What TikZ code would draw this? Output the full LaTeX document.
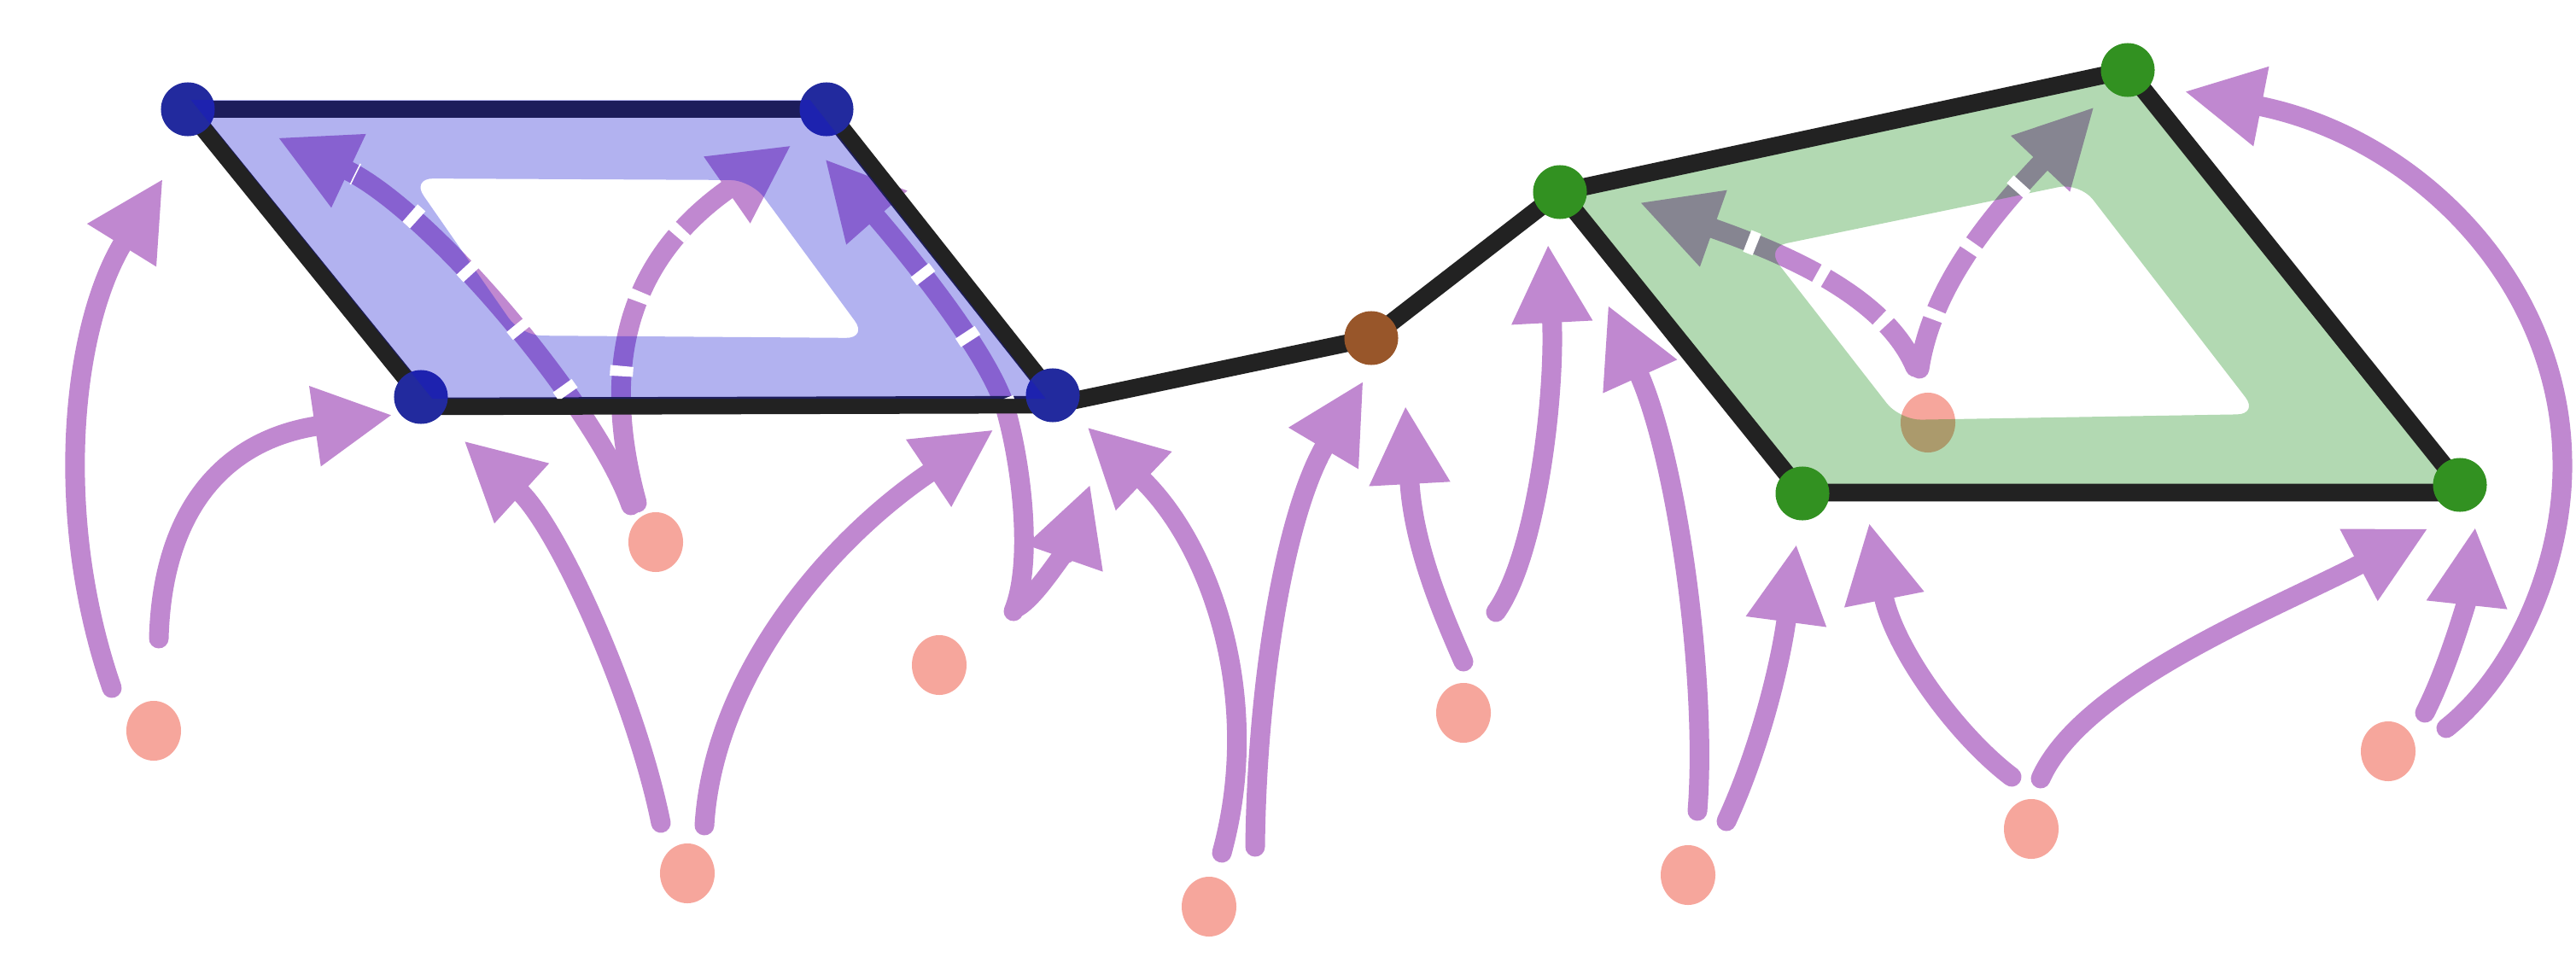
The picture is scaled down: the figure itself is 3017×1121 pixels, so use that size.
\documentclass[tikz,border=0pt]{standalone}
\usetikzlibrary{arrows.meta,shapes.geometric}
\definecolor{arrowc}{RGB}{192,136,208}
\definecolor{pinkc}{RGB}{246,166,156}
\definecolor{edgec}{RGB}{34,34,34}
\definecolor{bluen}{RGB}{34,42,158}
\definecolor{greenn}{RGB}{50,145,33}
\definecolor{brownn}{RGB}{152,86,42}
\definecolor{bluef}{RGB}{20,20,210}
\definecolor{greenf}{RGB}{0,128,0}
\tikzset{
  arr/.style={draw=arrowc, line width=0.23cm, line cap=round,
    -{Triangle[length=0.92cm,width=0.88cm]}},
  wgap/.style={draw=white, line width=0.27cm, dash pattern=on 0.12cm off 0.78cm,
    dash phase=0.3cm, shorten >=1.0cm},
  gedge/.style={draw=edgec, line width=0.205cm, line join=round},
  vtx/.style={circle, inner sep=0pt, minimum size=0.63cm},
  src/.style={ellipse, inner sep=0pt, minimum width=0.64cm, minimum height=0.70cm, fill=pinkc},
  bfill/.style={fill=bluef, fill opacity=0.33, even odd rule},
  gfill/.style={fill=greenf, fill opacity=0.3, even odd rule},
}
\begin{document}
\begin{tikzpicture}[x=0.01cm,y=-0.01cm]
\useasboundingbox (0,0) rectangle (3017,1121);

% graph vertex positions
\coordinate (B1) at (220,128);
\coordinate (B2) at (968,128);
\coordinate (B3) at (493,465);
\coordinate (B4) at (1233,463);
\coordinate (B3b) at (493,476);
\coordinate (B4b) at (1235,474);
\coordinate (Br) at (1606,396);
\coordinate (G1) at (1827,225);
\coordinate (G2) at (2492,82);
\coordinate (G3) at (2111,578);
\coordinate (G4) at (2881,568);
\coordinate (G3b) at (2111,577);
\coordinate (G4b) at (2881,577);

% pink source nodes
\node[src] (p1) at (180,856) {};
\node[src] (p2) at (768,635) {};
\node[src] (p3) at (805,1023) {};
\node[src] (p4) at (1100,779) {};
\node[src] (p5) at (1416,1062) {};
\node[src] (p6) at (1714,835) {};
\node[src] (p7) at (1977,1025) {};
\node[src] (p8) at (2258,495) {};
\node[src] (p9) at (2379,971) {};
\node[src] (p10) at (2797,880) {};

% arrow end points
\coordinate (a1s) at (131,806);   \coordinate (a1t) at (191,209);
\coordinate (a2s) at (186,748);   \coordinate (a2t) at (460,486);
\coordinate (a3s) at (739,592);   \coordinate (a3t) at (325,161);
\coordinate (a4s) at (746,589);   \coordinate (a4t) at (927,170);
\coordinate (a5s) at (774,964);   \coordinate (a5t) at (543,516);
\coordinate (a6s) at (825,967);   \coordinate (a6t) at (1164,503);
\coordinate (a7s) at (1190,712);  \coordinate (a7t) at (1277,567);
\coordinate (a8s) at (1187,716);  \coordinate (a8m) at (1178,480); \coordinate (a8t) at (966,186);
\coordinate (a9s) at (1470,992);  \coordinate (a9t) at (1597,446);
\coordinate (a10s) at (1431,999); \coordinate (a10t) at (1273,500);
\coordinate (a11s) at (1714,775); \coordinate (a11t) at (1646,475);
\coordinate (a12s) at (1752,717); \coordinate (a12t) at (1813,286);
\coordinate (a13s) at (1988,950); \coordinate (a13t) at (1883,357);
\coordinate (a14s) at (2022,962); \coordinate (a14t) at (2104,637);
\coordinate (a15s) at (2356,910); \coordinate (a15t) at (2189,612);
\coordinate (a16s) at (2390,912); \coordinate (a16t) at (2844,619);
\coordinate (a17s) at (2840,835); \coordinate (a17t) at (2899,617);
\coordinate (a18s) at (2865,853); \coordinate (a18m) at (3001,540); \coordinate (a18t) at (2558,107);
\coordinate (a19s) at (2243,430); \coordinate (a19t) at (1920,237);
\coordinate (a20s) at (2248,432); \coordinate (a20t) at (2453,125);

% arrows
\draw[arr] (a1s) .. controls (60,600) and (85,380) .. (a1t);
\draw[arr] (a2s) .. controls (190,600) and (260,515) .. (a2t);
\draw[arr] (a3s) .. controls (700,480) and (506,246) .. (a3t);
\draw[arr] (a4s) .. controls (700,420) and (740,300) .. (a4t);
\draw[arr] (a5s) .. controls (745,820) and (654,617) .. (a5t);
\draw[arr] (a6s) .. controls (835,800) and (960,640) .. (a6t);
\draw[arr] (a7s) .. controls (1215,700) and (1255,630) .. (a7t);
\draw[arr] (a8s) .. controls (1210,660) and (1197,547) .. (a8m)
                 .. controls (1156,403) and (1026,254) .. (a8t);
\draw[arr] (a9s) .. controls (1472,800) and (1505,601) .. (a9t);
\draw[arr] (a10s) .. controls (1480,820) and (1420,640) .. (a10t);
\draw[arr] (a11s) .. controls (1690,720) and (1655,640) .. (a11t);
\draw[arr] (a12s) .. controls (1800,650) and (1822,460) .. (a12t);
\draw[arr] (a13s) .. controls (2000,800) and (1965,539) .. (a13t);
\draw[arr] (a14s) .. controls (2060,880) and (2085,780) .. (a14t);
\draw[arr] (a15s) .. controls (2290,860) and (2218,759) .. (a15t);
\draw[arr] (a16s) .. controls (2440,800) and (2667,712) .. (a16t);
\draw[arr] (a17s) .. controls (2868,780) and (2890,700) .. (a17t);
\draw[arr] (a18s) .. controls (2945,790) and (3003,660) .. (a18m)
                  .. controls (2999,330) and (2830,160) .. (a18t);
\draw[arr] (a19s) .. controls (2205,340) and (2070,290) .. (a19t);
\draw[arr] (a20s) .. controls (2262,340) and (2325,260) .. (a20t);

% green region
\fill[gfill] (G1) -- (G2) -- (G4) -- (G3) -- cycle
  [rounded corners=0.25cm] (2068,290) -- (2436,214) -- (2645,485) -- (2225,492) -- cycle;

% edges
\draw[gedge] (B1) -- (B2);
\draw[gedge] (B2) -- (B4) -- (B4b) -- (B3b) -- (B3) -- (B1);
\draw[gedge] (B4b) -- (Br) -- (G1) -- (G2) -- (G4) -- (G4b) -- (G3b) -- (G3) -- (G1);

% graph vertices
\node[vtx, fill=bluen] (b1) at (B1) {};
\node[vtx, fill=bluen] (b2) at (B2) {};
\node[vtx, fill=bluen] (b3) at (B3) {};
\node[vtx, fill=bluen] (b4) at (B4) {};
\node[vtx, fill=brownn] (br) at (Br) {};
\node[vtx, fill=greenn] (g1) at (G1) {};
\node[vtx, fill=greenn] (g2) at (G2) {};
\node[vtx, fill=greenn] (g3) at (G3) {};
\node[vtx, fill=greenn] (g4) at (G4) {};

% blue region (covers the upper edge)
\fill[bfill] (223.5,117) -- (948.6,117) -- (1224.7,467) -- (506.3,467) -- cycle
  [rounded corners=0.25cm] (482,209) -- (880,211) -- (1016,396) -- (610,393) -- cycle;

% white gaps making dashed arrows inside the regions
\begin{scope}
  \clip (223.5,117) -- (948.6,117) -- (1224.7,467) -- (506.3,467) -- cycle;
  \draw[wgap] (a3s) .. controls (700,480) and (506,246) .. (a3t);
  \draw[wgap] (a4s) .. controls (700,420) and (740,300) .. (a4t);
  \draw[wgap] (a8s) .. controls (1210,660) and (1197,547) .. (a8m)
                    .. controls (1156,403) and (1026,254) .. (a8t);
\end{scope}
\begin{scope}
  \clip (G1) -- (G2) -- (G4) -- (G3) -- cycle;
  \draw[wgap] (a19s) .. controls (2205,340) and (2070,290) .. (a19t);
  \draw[wgap] (a20s) .. controls (2262,340) and (2325,260) .. (a20t);
\end{scope}
\end{tikzpicture}
\end{document}
